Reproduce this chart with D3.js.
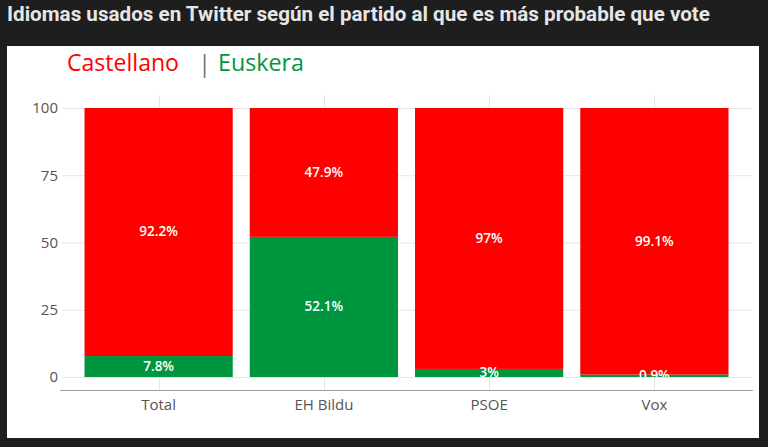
<!DOCTYPE html>
<html>
<head>
<meta charset="utf-8">
<script src="https://cdn.jsdelivr.net/npm/d3@7"></script>
<style>
  html, body { margin: 0; padding: 0; background: #1e1e1e; }
  svg { display: block; }
</style>
</head>
<body>
<script>
const categories = ["Total", "EH Bildu", "PSOE", "Vox"];
const castellano = [92.2, 47.9, 97, 99.1];
const euskera = [7.8, 52.1, 3, 0.9];
const yTicks = [0, 25, 50, 75, 100];
const seriesNames = ["Castellano", "Euskera"];
const title = "Idiomas usados en Twitter según el partido al que es más probable que vote";

const W = 768, H = 447;
const colors = { Castellano: "#ff0000", Euskera: "#009640" };

const svg = d3.select("body").append("svg").attr("width", W).attr("height", H);
svg.append("rect").attr("width", W).attr("height", H).attr("fill", "#1e1e1e");

// Title
svg.append("text")
  .attr("x", 7).attr("y", 21)
  .attr("font-family", "Roboto, sans-serif")
  .attr("font-weight", "bold")
  .attr("font-size", 19.5)
  .attr("fill", "#e6e6e6")
  .attr("textLength", 703)
  .attr("lengthAdjust", "spacingAndGlyphs")
  .text(title);

// Panel
svg.append("rect").attr("x", 7).attr("y", 46).attr("width", 752).attr("height", 392).attr("fill", "#ffffff");

// Legend
const lg = svg.append("g").attr("font-family", "'Open Sans', sans-serif").attr("font-size", 24);
lg.append("text").attr("x", 67).attr("y", 71).attr("fill", colors.Castellano)
  .attr("textLength", 112).attr("lengthAdjust", "spacingAndGlyphs").text(seriesNames[0]);
lg.append("text").attr("x", 198).attr("y", 72).attr("fill", "#777").text("|");
lg.append("text").attr("x", 218).attr("y", 71).attr("fill", colors.Euskera)
  .attr("textLength", 86).attr("lengthAdjust", "spacingAndGlyphs").text(seriesNames[1]);

// Scales
const x = d3.scaleBand().domain(categories).range([76, 737]).paddingInner(0.103).paddingOuter(0.0515);
const y = d3.scaleLinear().domain([0, 100]).range([377, 108]);

const gridLeft = 62, gridRight = 753, plotTop = 95, axisY = 390;

// Horizontal gridlines
svg.append("g").selectAll("line").data(yTicks).join("line")
  .attr("x1", gridLeft).attr("x2", gridRight)
  .attr("y1", d => y(d) + 0.5).attr("y2", d => y(d) + 0.5)
  .attr("stroke", "#e6e6e6").attr("stroke-width", 1);

// Vertical gridlines
svg.append("g").selectAll("line").data(categories).join("line")
  .attr("x1", d => Math.round(x(d) + x.bandwidth() / 2) + 0.5)
  .attr("x2", d => Math.round(x(d) + x.bandwidth() / 2) + 0.5)
  .attr("y1", plotTop).attr("y2", axisY)
  .attr("stroke", "#e6e6e6").attr("stroke-width", 1);

// Y axis labels
svg.append("g").selectAll("text").data(yTicks).join("text")
  .attr("x", 58).attr("y", d => y(d))
  .attr("dy", "0.36em")
  .attr("text-anchor", "end")
  .attr("font-family", "'Open Sans', sans-serif").attr("font-size", 15)
  .attr("fill", "#555")
  .text(d => d);

// Stack data
const rows = categories.map((c, i) => ({ cat: c, Euskera: euskera[i], Castellano: castellano[i] }));
const stack = d3.stack().keys(["Euskera", "Castellano"])(rows);

const barsG = svg.append("g");
stack.forEach(layer => {
  barsG.append("g").selectAll("rect").data(layer).join("rect")
    .attr("x", d => x(d.data.cat))
    .attr("width", x.bandwidth())
    .attr("y", d => y(d[1]))
    .attr("height", d => y(d[0]) - y(d[1]))
    .attr("fill", colors[layer.key]);
});

// Clip for labels
svg.append("clipPath").attr("id", "plotclip").append("rect")
  .attr("x", gridLeft).attr("y", plotTop).attr("width", gridRight - gridLeft).attr("height", y(0) - plotTop);

const labelsG = svg.append("g").attr("clip-path", "url(#plotclip)");
stack.forEach(layer => {
  labelsG.append("g").selectAll("text").data(layer).join("text")
    .attr("x", d => x(d.data.cat) + x.bandwidth() / 2)
    .attr("y", d => (y(d[0]) + y(d[1])) / 2 - 0.5)
    .attr("dy", "0.36em")
    .attr("text-anchor", "middle")
    .attr("font-family", "'Open Sans', sans-serif").attr("font-size", 13.5)
    .attr("font-weight", 600)
    .attr("fill", "#ffffff")
    .text(d => `${d.data[layer.key]}%`);
});

// X axis line
svg.append("line").attr("x1", 60).attr("x2", gridRight)
  .attr("y1", axisY + 0.5).attr("y2", axisY + 0.5)
  .attr("stroke", "#a0a0a0").attr("stroke-width", 1);

// X labels
svg.append("g").selectAll("text").data(categories).join("text")
  .attr("x", d => x(d) + x.bandwidth() / 2)
  .attr("y", 410)
  .attr("text-anchor", "middle")
  .attr("font-family", "'Open Sans', sans-serif").attr("font-size", 15)
  .attr("fill", "#555")
  .text(d => d);
</script>
</body>
</html>
